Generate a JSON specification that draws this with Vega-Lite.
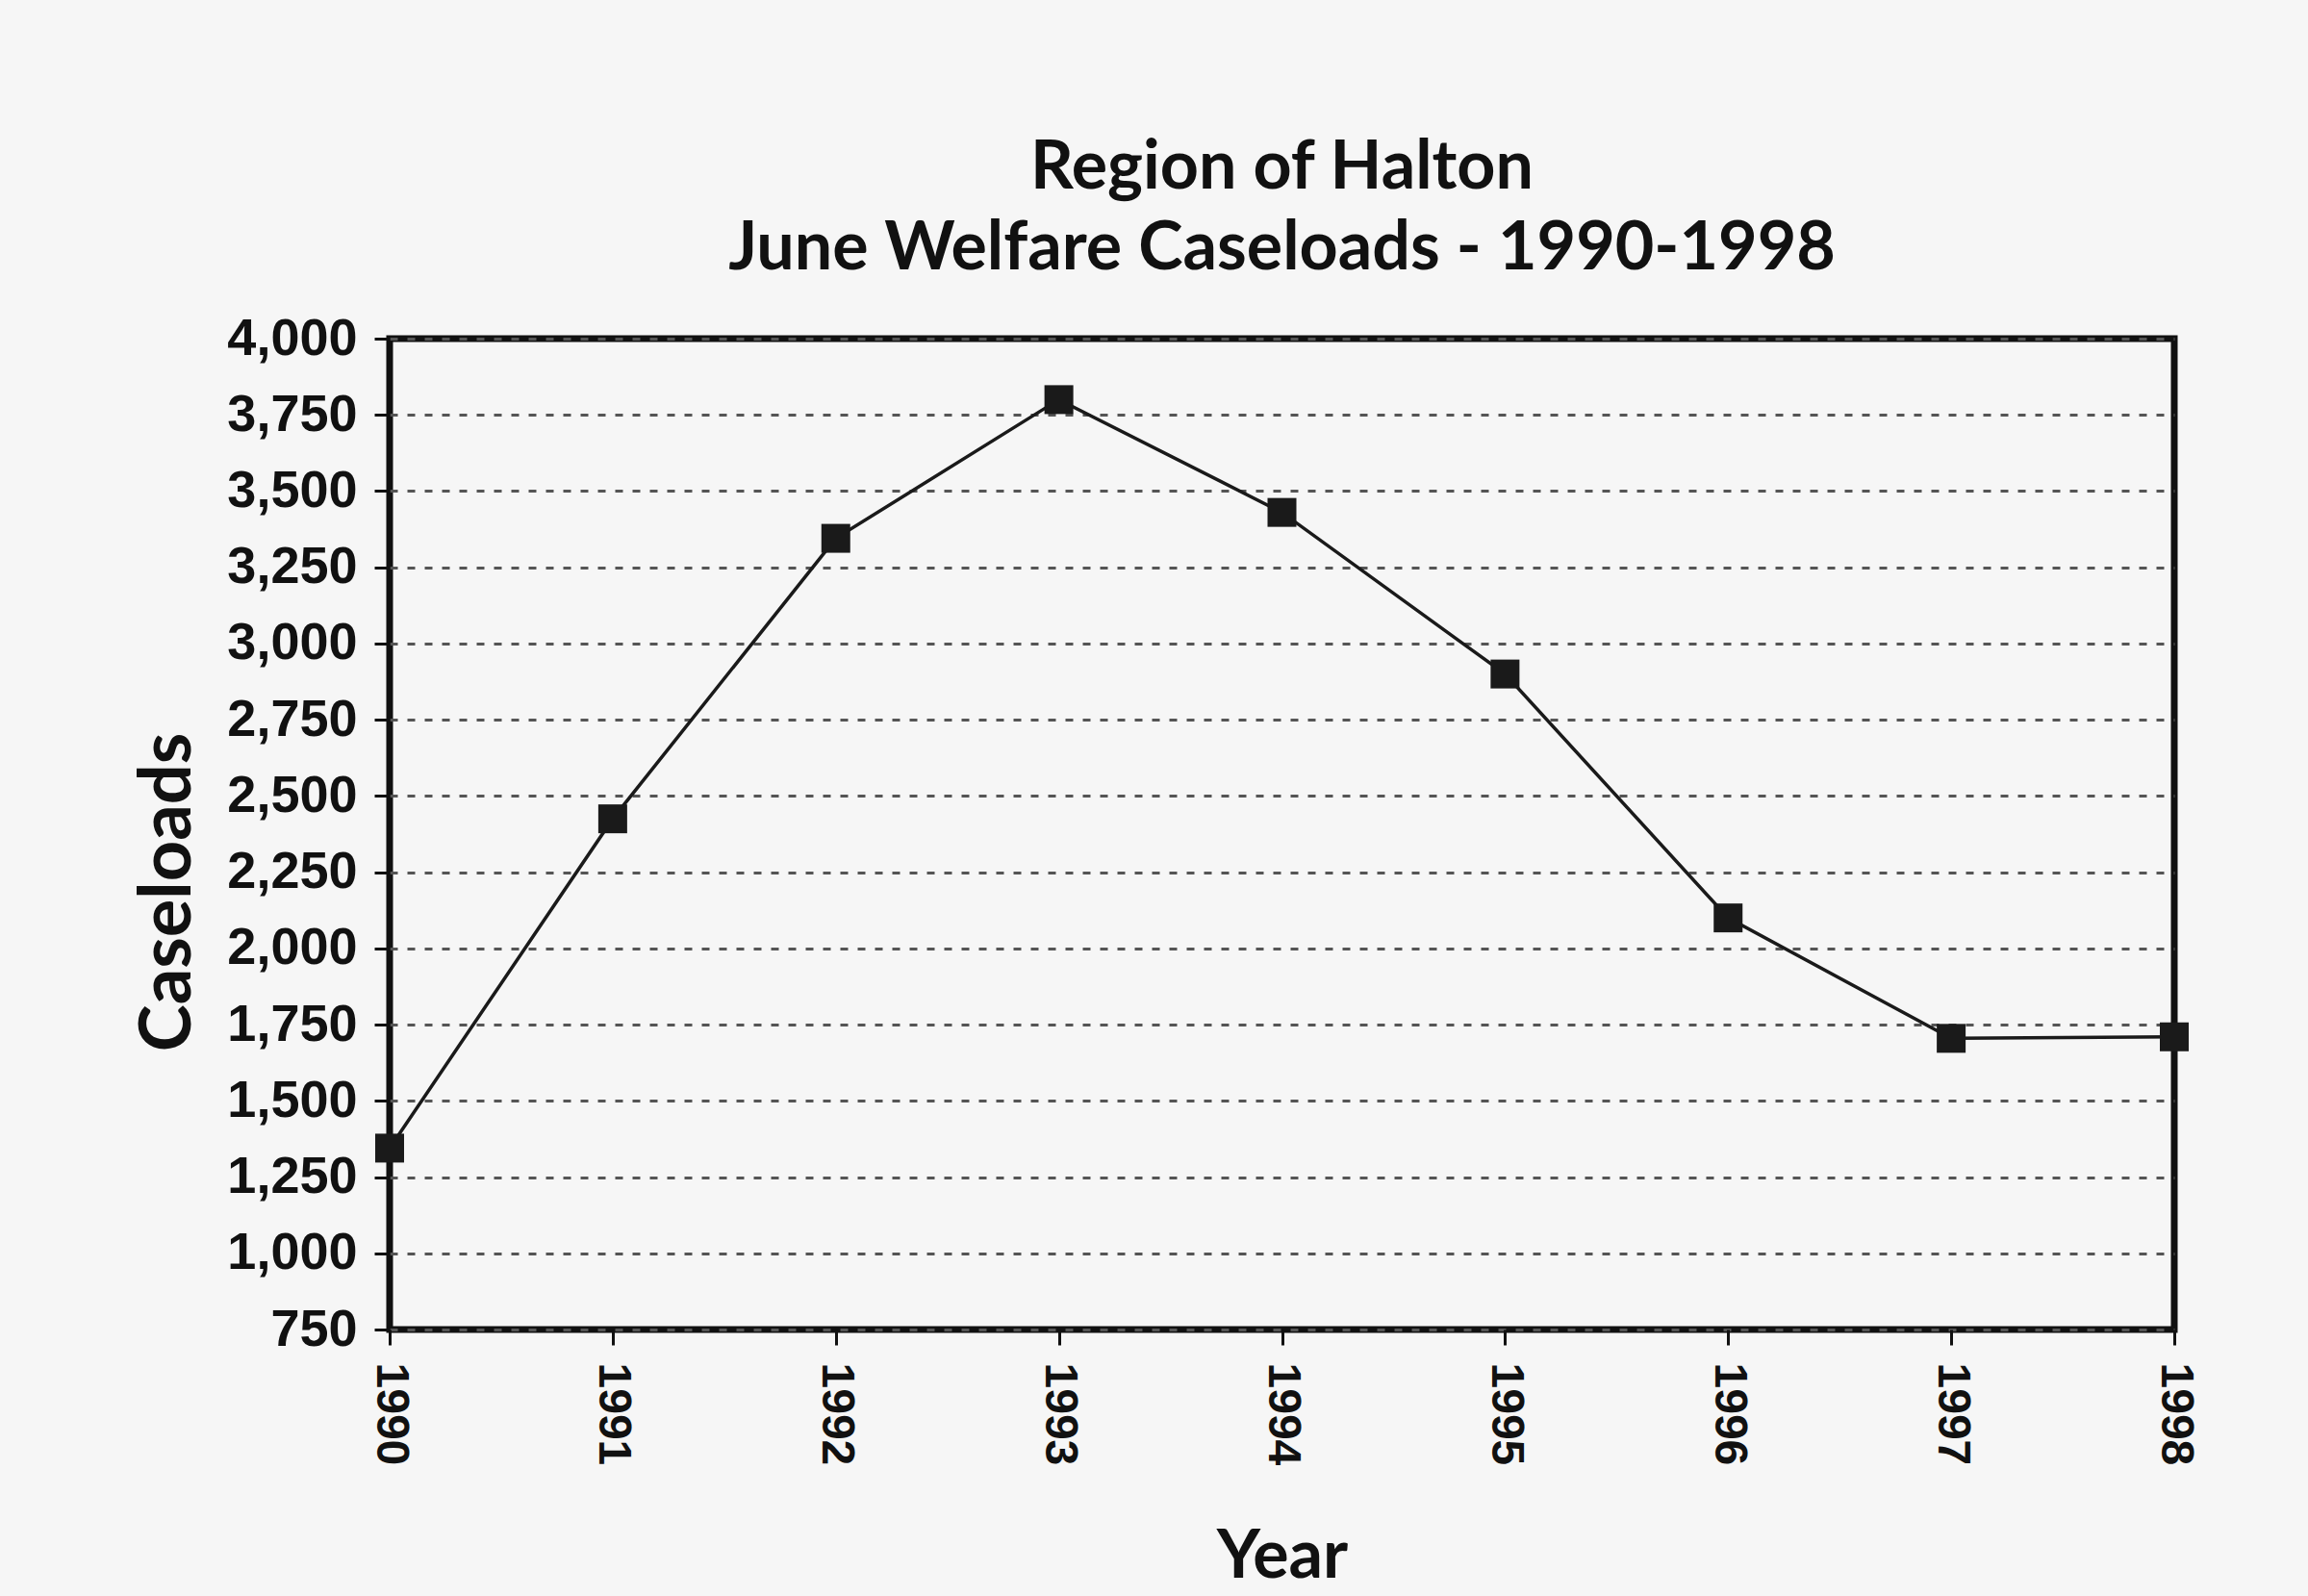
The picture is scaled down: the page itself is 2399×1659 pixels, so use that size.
{
  "$schema": "https://vega.github.io/schema/vega-lite/v6.json",
  "autosize": "none",
  "width": 1855,
  "height": 1030,
  "padding": {"left": 405, "top": 352, "right": 139, "bottom": 277},
  "background": "#f6f6f6",
  "title": {
    "text": ["Region of Halton", "June Welfare Caseloads - 1990-1998"],
    "font": "Lato",
    "fontSize": 70,
    "fontWeight": "bold",
    "lineHeight": 84,
    "color": "#111111",
    "anchor": "middle",
    "offset": 30
  },
  "data": {
    "values": [
      {"Year": 1990, "Caseloads": 1345},
      {"Year": 1991, "Caseloads": 2425},
      {"Year": 1992, "Caseloads": 3345},
      {"Year": 1993, "Caseloads": 3800},
      {"Year": 1994, "Caseloads": 3430},
      {"Year": 1995, "Caseloads": 2900},
      {"Year": 1996, "Caseloads": 2100},
      {"Year": 1997, "Caseloads": 1705},
      {"Year": 1998, "Caseloads": 1710}
    ]
  },
  "encoding": {
    "x": {
      "field": "Year",
      "type": "quantitative",
      "scale": {"domain": [1990, 1998], "nice": false, "zero": false},
      "axis": {
        "title": "Year",
        "values": [1990, 1991, 1992, 1993, 1994, 1995, 1996, 1997, 1998],
        "format": "d",
        "labelAngle": 90,
        "labelAlign": "left",
        "labelBaseline": "middle",
        "labelFont": "Liberation Sans",
        "labelFontWeight": "bold",
        "labelFontSize": 48,
        "labelColor": "#111111",
        "labelPadding": 18,
        "tickSize": 16,
        "tickWidth": 3,
        "tickColor": "#111111",
        "domain": false,
        "grid": false,
        "titleFont": "Lato",
        "titleFontWeight": "bold",
        "titleFontSize": 70,
        "titleColor": "#111111",
        "titlePadding": 62
      }
    },
    "y": {
      "field": "Caseloads",
      "type": "quantitative",
      "scale": {"domain": [750, 4000], "nice": false, "zero": false},
      "axis": {
        "title": "Caseloads",
        "values": [750, 1000, 1250, 1500, 1750, 2000, 2250, 2500, 2750, 3000, 3250, 3500, 3750, 4000],
        "format": ",d",
        "labelFont": "Liberation Sans",
        "labelFontWeight": "bold",
        "labelFontSize": 54,
        "labelColor": "#111111",
        "labelPadding": 18,
        "tickSize": 16,
        "tickWidth": 3,
        "tickColor": "#111111",
        "domain": false,
        "grid": true,
        "gridColor": "#555555",
        "gridWidth": 3,
        "gridDash": [8, 10],
        "titleFont": "Lato",
        "titleFontWeight": "bold",
        "titleFontSize": 74,
        "titleColor": "#111111",
        "titlePadding": 22,
        "titleY": 575
      }
    }
  },
  "layer": [
    {
      "mark": {"type": "line", "color": "#1a1a1a", "strokeWidth": 3.5}
    },
    {
      "mark": {"type": "square", "color": "#1a1a1a", "filled": true, "opacity": 1, "size": 900}
    }
  ],
  "config": {
    "view": {"stroke": "#111111", "strokeWidth": 7}
  }
}
